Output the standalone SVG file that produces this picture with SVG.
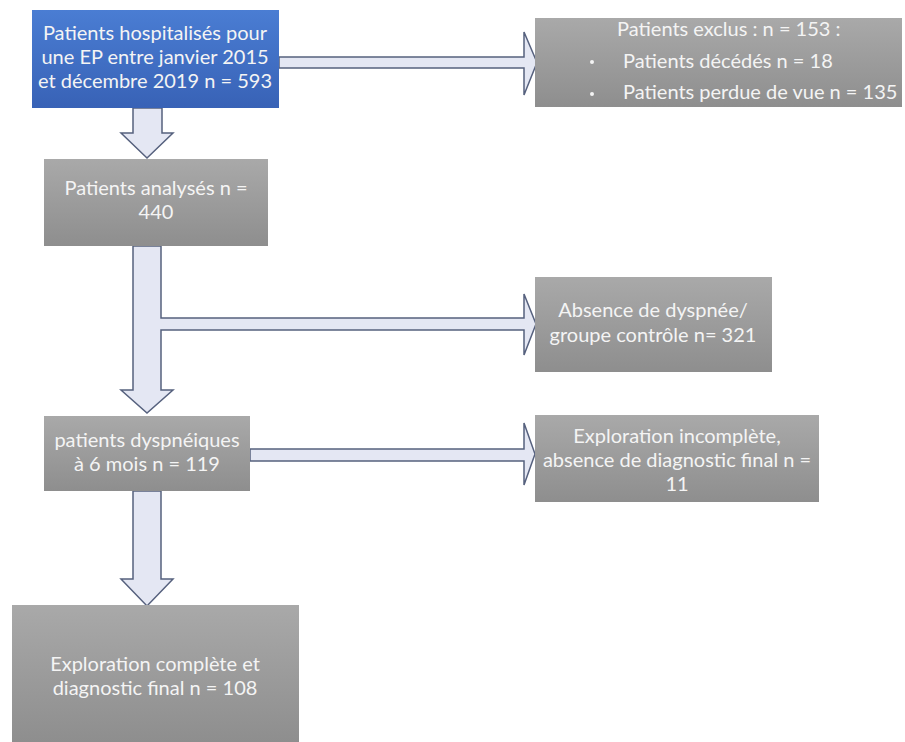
<svg xmlns="http://www.w3.org/2000/svg" width="905" height="742" viewBox="0 0 905 742">
<defs>
<linearGradient id="gGray" x1="0" y1="0" x2="0" y2="1">
<stop offset="0" stop-color="#a9a9a9"/>
<stop offset="1" stop-color="#8e8e8e"/>
</linearGradient>
<linearGradient id="gBlue" x1="0" y1="0" x2="0" y2="1">
<stop offset="0" stop-color="#4a7dd3"/>
<stop offset="1" stop-color="#3862b6"/>
</linearGradient>
</defs>
<style>
.box{fill:url(#gGray);}
.blue{fill:url(#gBlue);}
.t{font-family:Lato,"Liberation Sans",sans-serif;font-size:20px;fill:#f4f4f4;text-anchor:middle;}
.tl{font-family:Lato,"Liberation Sans",sans-serif;font-size:20px;fill:#f4f4f4;}
.arr{fill:#e4e7f3;stroke:#56617e;stroke-width:1.5;stroke-linejoin:miter;}
</style>
<rect width="905" height="742" fill="#ffffff"/>
<g id="connectors">
<path class="arr" d="M279,57 H524 V32 L537,62.5 L524,95 V68 H279 Z"/>
<path class="arr" d="M133,108 V133 H121 L147,158 L173,133 H162 V108 Z"/>
<path class="arr" d="M133,246 V390 H121 L147,413 L173,390 H161 V330 H524 V355 L536,324 L524,294 V318 H161 V246 Z"/>
<path class="arr" d="M250,449 H524 V423 L535,454 L524,485 V461 H250 Z"/>
<path class="arr" d="M133,491 V579 H121 L147,606 L173,579 H161 V491 Z"/>
</g>
<g id="n1">
<rect class="blue" x="32" y="10" width="247" height="98"/>
<text class="t" x="155" y="40">Patients hospitalisés pour</text>
<text class="t" x="155" y="64">une EP entre janvier 2015</text>
<text class="t" x="155" y="88">et décembre 2019 n = 593</text>
</g>
<g id="n2">
<rect class="box" x="535" y="18" width="367" height="89"/>
<text class="tl" x="617" y="36">Patients exclus : n = 153 :</text>
<circle cx="592" cy="62" r="2" fill="#f4f4f4"/>
<text class="tl" x="623" y="68">Patients décédés n = 18</text>
<circle cx="592" cy="94" r="2" fill="#f4f4f4"/>
<text class="tl" x="623" y="99">Patients perdue de vue n = 135</text>
</g>
<g id="n3">
<rect class="box" x="44" y="159" width="224" height="87"/>
<text class="t" x="156" y="195">Patients analysés n =</text>
<text class="t" x="156" y="219">440</text>
</g>
<g id="n4">
<rect class="box" x="535" y="277" width="237" height="95"/>
<text class="t" x="653" y="317">Absence de dyspnée/</text>
<text class="t" x="653" y="342">groupe contrôle n= 321</text>
</g>
<g id="n5">
<rect class="box" x="44" y="416" width="206" height="75"/>
<text class="t" x="147" y="447">patients dyspnéiques</text>
<text class="t" x="147" y="471">à 6 mois n = 119</text>
</g>
<g id="n6">
<rect class="box" x="535" y="415" width="284" height="87"/>
<text class="t" x="677" y="443">Exploration incomplète,</text>
<text class="t" x="677" y="467">absence de diagnostic final n =</text>
<text class="t" x="677" y="491">11</text>
</g>
<g id="n7">
<rect class="box" x="12" y="605" width="287" height="137"/>
<text class="t" x="155" y="671">Exploration complète et</text>
<text class="t" x="155" y="695">diagnostic final n = 108</text>
</g>
</svg>
